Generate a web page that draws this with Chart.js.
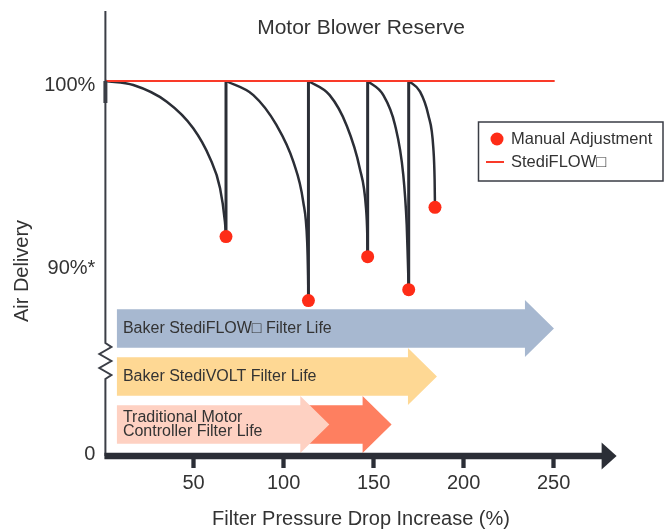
<!DOCTYPE html>
<html>
<head>
<meta charset="utf-8">
<script src="https://cdn.jsdelivr.net/npm/chart.js@4"></script>
<style>
  body { margin: 0; background: #fff; }
  #wrap { width: 668px; height: 531px; }
</style>
</head>
<body>
<div id="wrap"><canvas id="blowerChart" width="668" height="531"></canvas></div>
<script>
// axis ticks
const xTickValues = [50, 100, 150, 200, 250];
const yTickValues = [79.8, 90, 100];
const yTickLabels = ['0', '90%*', '100%'];

// air delivery curves between manual adjustments
const curve1X = [1, 16.5, 35.1, 49.8, 59.1, 64.7, 67.4, 68.0];
const curve1Y = [100, 99.78, 98.87, 97.42, 95.78, 94.14, 92.31, 91.5];
const curve2X = [68.0, 83.2, 96.0, 105.4, 110.9, 113.1, 113.6, 113.8];
const curve2Y = [100, 99.23, 97.6, 95.59, 93.4, 91.22, 89.4, 88.0];
const curve3X = [113.8, 125.6, 134.9, 142.3, 145.8, 146.5, 146.7];
const curve3Y = [100, 99.23, 97.6, 95.23, 93.04, 91.58, 90.4];
const curve4X = [146.7, 155.4, 161.9, 166.5, 168.4, 169.0, 169.5];
const curve4Y = [100, 99.23, 97.6, 94.86, 92.13, 90.3, 88.6];
const curve5X = [169.5, 175.8, 180.4, 183.2, 183.9, 184.1];
const curve5Y = [100, 99.42, 98.14, 96.32, 94.6, 93.1];

// manual adjustment points
const manualX = [68.0, 113.8, 146.7, 169.5, 184.1];
const manualY = [91.5, 88.0, 90.4, 88.6, 93.1];

// StediFLOW constant delivery
const stediFlowX = [1, 250.6];
const stediFlowY = [100, 100];

// filter life arrows (x = pressure drop increase)
const lifeLabels = ['Baker StediFLOW\u25A1 Filter Life', 'Baker StediVOLT Filter Life', '', 'Traditional Motor\nController Filter Life'];
const lifeStart = [7.4, 7.4, 110, 7.4];
const lifeEnd = [250.2, 185.2, 160.0, 125.4];
const lifeRow = [0, 1, 2, 2];

const FONT = '"Liberation Sans", Arial, sans-serif';
const DARK = '#2b2e36';
const TEXT = '#333333';
const RED = '#fe2c17';
const lifeColors = ['#a7b8d0', '#fed894', '#fe7f60', '#fed1c2'];

const pts = (xs, ys) => xs.map((x, i) => ({ x: x, y: ys[i] }));

// vertical reset lines: from each adjustment point (except the last) back up to 100%
let resetPts = [];
for (let i = 0; i < manualX.length - 1; i++) {
    resetPts.push({ x: manualX[i], y: manualY[i] });
    resetPts.push({ x: manualX[i], y: 100 });
    resetPts.push({ x: manualX[i], y: null });
}

function curveSet(xs, ys) {
    return {
        label: 'curve',
        data: pts(xs, ys),
        showLine: true,
        borderColor: DARK,
        borderWidth: 2.5,
        pointRadius: 0,
        cubicInterpolationMode: 'monotone'
    };
}

function drawArrow(ctx, x0, x1, yc, color) {
    const headLen = 29, barHalf = 19.2, headHalf = 28.6;
    const hb = x1 - headLen;
    ctx.fillStyle = color;
    ctx.beginPath();
    ctx.moveTo(x0, yc - barHalf);
    ctx.lineTo(hb, yc - barHalf);
    ctx.lineTo(hb, yc - headHalf);
    ctx.lineTo(x1, yc);
    ctx.lineTo(hb, yc + headHalf);
    ctx.lineTo(hb, yc + barHalf);
    ctx.lineTo(x0, yc + barHalf);
    ctx.closePath();
    ctx.fill();
}

const decorPlugin = {
    id: 'decor',
    beforeDatasetsDraw(chart) {
        const ctx = chart.ctx;
        const xs = chart.scales.x;
        const area = chart.chartArea;
        ctx.save();
        // filter life arrows
        for (let i = 0; i < lifeLabels.length; i++) {
            const yc = area.bottom - 127.5 + lifeRow[i] * 48;
            const x0 = xs.getPixelForValue(lifeStart[i]);
            const x1 = xs.getPixelForValue(lifeEnd[i]);
            drawArrow(ctx, x0, x1, yc, lifeColors[i]);
            if (lifeLabels[i]) {
                const lines = lifeLabels[i].split('\n');
                ctx.fillStyle = TEXT;
                ctx.font = '16px ' + FONT;
                ctx.textAlign = 'left';
                ctx.textBaseline = 'middle';
                lines.forEach((ln, k) => {
                    const off = (k - (lines.length - 1) / 2) * 14.5;
                    ctx.fillText(ln, x0 + 6, yc + off);
                });
            }
        }
        ctx.restore();
    },
    afterDatasetsDraw(chart) {
        const ctx = chart.ctx;
        const area = chart.chartArea;
        const ys = chart.scales.y;
        const left = area.left, bottom = area.bottom;
        ctx.save();
        // y axis with break
        ctx.strokeStyle = '#3b3e46';
        ctx.lineWidth = 2;
        ctx.beginPath();
        ctx.moveTo(left, area.top + 1);
        ctx.lineTo(left, 343);
        ctx.lineTo(left + 6, 347);
        ctx.lineTo(left - 6, 354);
        ctx.lineTo(left + 6, 361);
        ctx.lineTo(left - 6, 368);
        ctx.lineTo(left + 6, 375);
        ctx.lineTo(left, 379);
        ctx.lineTo(left, bottom);
        ctx.stroke();
        const y100 = ys.getPixelForValue(100);
        ctx.lineWidth = 4;
        ctx.beginPath();
        ctx.moveTo(left, y100);
        ctx.lineTo(left, y100 + 22);
        ctx.stroke();
        // x axis with arrow head
        ctx.strokeStyle = DARK;
        ctx.fillStyle = DARK;
        ctx.lineWidth = 6.5;
        ctx.beginPath();
        ctx.moveTo(left - 1, bottom);
        ctx.lineTo(area.right - 14, bottom);
        ctx.stroke();
        ctx.beginPath();
        ctx.moveTo(area.right - 15, bottom - 13.5);
        ctx.lineTo(area.right, bottom);
        ctx.lineTo(area.right - 15, bottom + 13.5);
        ctx.closePath();
        ctx.fill();
        ctx.restore();
    },
    afterDraw(chart) {
        const ctx = chart.ctx;
        ctx.save();
        // title inside the plot
        ctx.fillStyle = TEXT;
        ctx.font = '21px ' + FONT;
        ctx.textAlign = 'center';
        ctx.textBaseline = 'middle';
        ctx.fillText('Motor Blower Reserve', 361, 28);
        // y axis title
        ctx.save();
        ctx.translate(22, 271);
        ctx.rotate(-Math.PI / 2);
        ctx.font = '20px ' + FONT;
        ctx.fillText('Air Delivery', 0, 0);
        ctx.restore();
        // legend
        const dots = chart.data.datasets[0];
        const flow = chart.data.datasets[1];
        ctx.fillStyle = '#fff';
        ctx.fillRect(478.5, 122, 184.5, 59);
        ctx.strokeStyle = '#3a3d45';
        ctx.lineWidth = 1.5;
        ctx.strokeRect(478.5, 122, 184.5, 59);
        ctx.fillStyle = dots.backgroundColor;
        ctx.beginPath();
        ctx.arc(497, 139, 6.5, 0, Math.PI * 2);
        ctx.fill();
        ctx.strokeStyle = flow.borderColor;
        ctx.lineWidth = 2;
        ctx.beginPath();
        ctx.moveTo(486, 162);
        ctx.lineTo(504, 162);
        ctx.stroke();
        ctx.fillStyle = TEXT;
        ctx.font = '16.5px ' + FONT;
        ctx.textAlign = 'left';
        ctx.fillText(dots.label, 511, 139);
        ctx.fillText(flow.label, 511, 162);
        ctx.restore();
    }
};

Chart.defaults.font.family = FONT;
Chart.defaults.color = TEXT;

const datasets = [
    {
        label: 'Manual Adjustment',
        data: pts(manualX, manualY),
        showLine: false,
        pointRadius: 6.5,
        pointBackgroundColor: RED,
        backgroundColor: RED,
        pointBorderWidth: 0
    },
    {
        label: 'StediFLOW\u25A1',
        data: pts(stediFlowX, stediFlowY),
        showLine: true,
        borderColor: '#f93a29',
        borderWidth: 2,
        pointRadius: 0
    },
    {
        label: 'reset',
        data: resetPts,
        showLine: true,
        spanGaps: false,
        borderColor: DARK,
        borderWidth: 3,
        pointRadius: 0,
        tension: 0
    },
    curveSet(curve1X, curve1Y),
    curveSet(curve2X, curve2Y),
    curveSet(curve3X, curve3Y),
    curveSet(curve4X, curve4Y),
    curveSet(curve5X, curve5Y)
];

new Chart(document.getElementById('blowerChart'), {
    type: 'scatter',
    data: { datasets: datasets },
    options: {
        responsive: false,
        animation: false,
        events: [],
        layout: { padding: { top: 10, right: 51.4, left: 0, bottom: 0 } },
        plugins: {
            legend: { display: false },
            tooltip: { enabled: false }
        },
        scales: {
            x: {
                type: 'linear',
                min: 1,
                max: 285,
                afterFit: s => { s.height = 75; s.paddingLeft = 0; s.paddingRight = 0; },
                afterBuildTicks: s => { s.ticks = xTickValues.map(v => ({ value: v })); },
                border: { display: false },
                grid: {
                    drawOnChartArea: false,
                    drawTicks: true,
                    tickLength: 12,
                    tickWidth: 4.3,
                    tickColor: DARK
                },
                ticks: { font: { size: 20 }, padding: 3, color: TEXT },
                title: {
                    display: true,
                    text: 'Filter Pressure Drop Increase (%)',
                    font: { size: 20 },
                    color: TEXT,
                    padding: { top: 0, bottom: 0 }
                }
            },
            y: {
                type: 'linear',
                min: 79.51,
                max: 103.88,
                afterFit: s => { s.width = 105.4; s.paddingTop = 0; s.paddingBottom = 0; },
                afterBuildTicks: s => { s.ticks = yTickValues.map(v => ({ value: v })); },
                border: { display: false },
                grid: { display: false, drawTicks: false },
                ticks: {
                    font: { size: 20 },
                    padding: 10,
                    labelOffset: 4,
                    color: TEXT,
                    callback: (v, i) => yTickLabels[i]
                }
            }
        }
    },
    plugins: [decorPlugin]
});
</script>
</body>
</html>
